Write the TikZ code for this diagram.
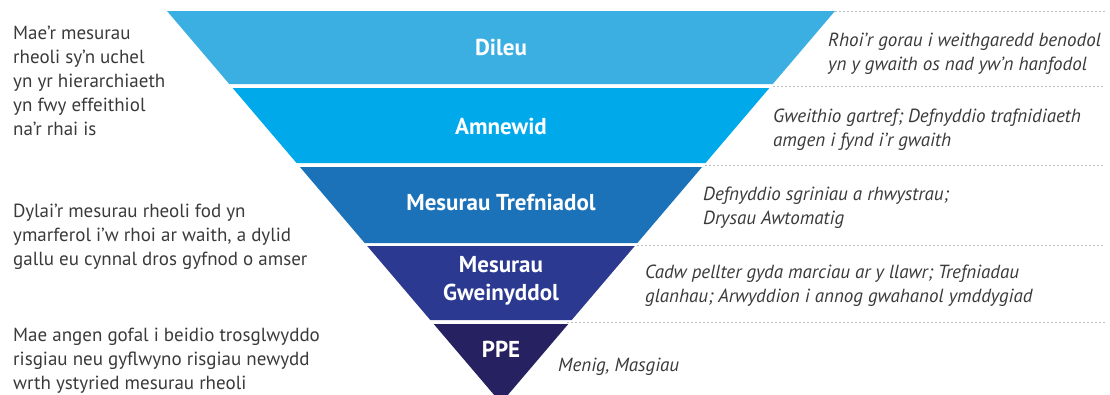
\documentclass[tikz,border=0pt]{standalone}
\usepackage{fontspec}
\setmainfont{PT Sans}
\usetikzlibrary{positioning}

\definecolor{bandA}{HTML}{3BAFE2}
\definecolor{bandB}{HTML}{00A9EA}
\definecolor{bandC}{HTML}{1B72B9}
\definecolor{bandD}{HTML}{2B3990}
\definecolor{bandE}{HTML}{262160}
\definecolor{note}{HTML}{3A3A3A}
\definecolor{rule}{HTML}{BDBDBD}

\begin{document}
\begin{tikzpicture}[
    x=1pt, y=-1pt,
    level/.style={text=white, font=\fontsize{23}{28}\selectfont\bfseries, align=center, inner sep=0pt},
    leftnote/.style={anchor=west, text=note, font=\fontsize{19}{24}\selectfont, align=left, inner sep=0pt},
    rightnote/.style={anchor=west, text=note, font=\fontsize{19}{24}\selectfont\itshape, align=left, inner sep=0pt},
    sep/.style={rule, line width=1pt, dash pattern=on 2pt off 2pt}
]
\useasboundingbox (0,0) rectangle (1110,394);
\clip (0,0) rectangle (1110,394);

% --- Bands of the inverted triangle ---
\foreach \ya/\yb/\col in {11/84/bandA, 88/163/bandB, 167/243/bandC, 246/320/bandD, 324/403/bandE}
    \fill[\col] ({501-(403-\ya)*0.852},\ya) -- ({501+(403-\ya)*0.852},\ya)
        -- ({501+(403-\yb)*0.852},\yb) -- ({501-(403-\yb)*0.852},\yb) -- cycle;

% --- Dotted separators on the right ---
\coordinate (s0) at (835,11);
\coordinate (s1) at (773,86);
\coordinate (s2) at (705,165);
\coordinate (s3) at (637,245);
\coordinate (s4) at (567,322);
\foreach \i in {0,...,4}
    \draw[sep] (s\i) -- (s\i -| 1105,0);

% --- Level labels ---
\node[level] (dileu) at (501,47) {Dileu};
\node[level] (amnewid) at (501,126) {Amnewid};
\node[level] (trefn) at (501,202) {Mesurau Trefniadol};
\node[level] (gwein) at (501,281) {Mesurau\\Gweinyddol};
\node[level] (ppe) at (501,349) {PPE};

% --- Notes on the left ---
\node[leftnote] (high) at (13,81) {Mae'r mesurau\\rheoli sy'n uchel\\yn yr hierarchiaeth\\yn fwy effeithiol\\na'r rhai is};
\node[leftnote] (practical) at (13,237) {Dylai'r mesurau rheoli fod yn\\ymarferol i'w rhoi ar waith, a dylid\\gallu eu cynnal dros gyfnod o amser};
\node[leftnote] (care) at (13,361) {Mae angen gofal i beidio trosglwyddo\\risgiau neu gyflwyno risgiau newydd\\wrth ystyried mesurau rheoli};

% --- Examples on the right ---
\node[rightnote] (ex1) at (828,54) {Rhoi'r gorau i weithgaredd benodol\\yn y gwaith os nad yw'n hanfodol};
\node[rightnote] (ex2) at (773,130) {Gweithio gartref; Defnyddio trafnidiaeth\\amgen i fynd i'r gwaith};
\node[rightnote] (ex3) at (703,208) {Defnyddio sgriniau a rhwystrau;\\Drysau Awtomatig};
\node[rightnote] (ex4) at (645,286) {Cadw pellter gyda marciau ar y llawr; Trefniadau\\glanhau; Arwyddion i annog gwahanol ymddygiad};
\node[rightnote] (ex5) at (558,367) {Menig, Masgiau};

\end{tikzpicture}
\end{document}
